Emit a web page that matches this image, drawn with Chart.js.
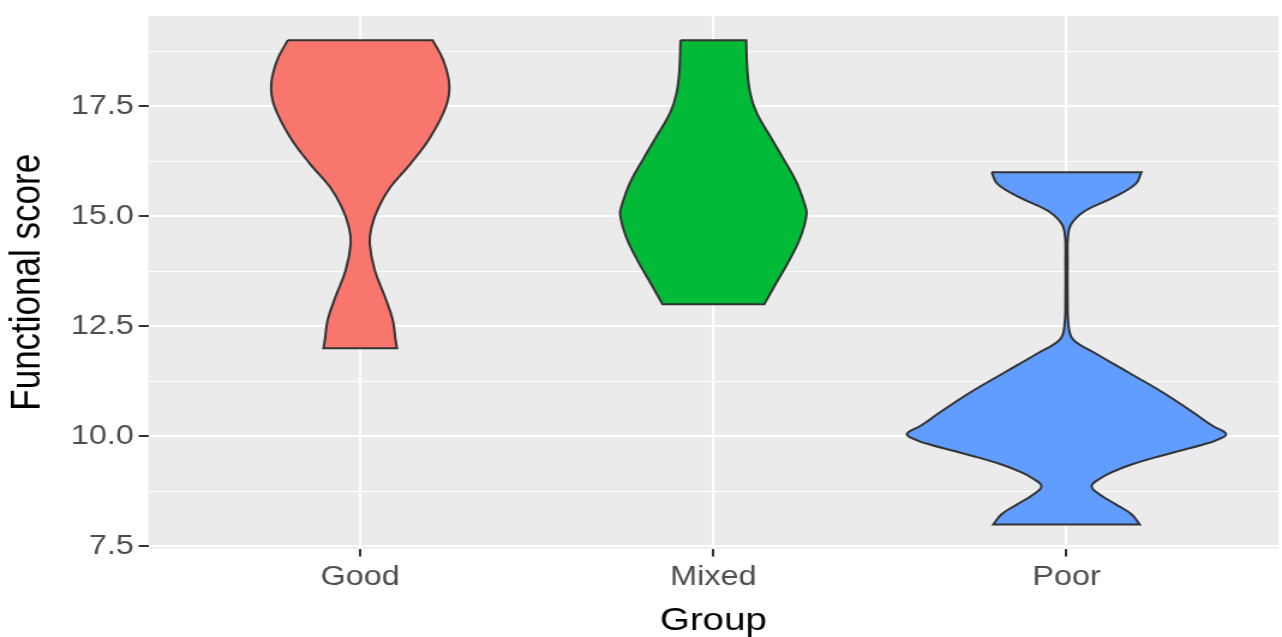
<!DOCTYPE html>
<html>
<head>
<meta charset="utf-8">
<title>Functional score by group</title>
<script src="https://cdn.jsdelivr.net/npm/chart.js@4.4.1/dist/chart.umd.min.js"></script>
<style>
    html, body { margin: 0; padding: 0; background: #ffffff; }
</style>
</head>
<body>
<!-- the reference is stretched sideways, so the canvas is drawn narrower and widened by css -->
<canvas id="violinChart" width="1068" height="637" style="width:1282px;height:637px;display:block;"></canvas>
<script>
const groups = ['Good', 'Mixed', 'Poor'];
const groupColors = ['#F8766D', '#00BA38', '#619CFF'];

// violin outlines: score levels from top to bottom and the half width (in group units) at each level
const goodScores = [19, 18.55, 18.0, 17.5, 16.79, 16.18, 15.66, 15.2, 14.75, 14.38, 13.78, 13.17, 12.65, 12.2, 12];
const goodHalfWidths = [0.205, 0.235, 0.252, 0.243, 0.198, 0.141, 0.085, 0.052, 0.032, 0.027, 0.041, 0.070, 0.092, 0.100, 0.104];

const mixedScores = [19, 18.34, 17.81, 17.36, 16.76, 16.31, 15.78, 15.26, 15.04, 14.53, 14.0, 13.4, 13];
const mixedHalfWidths = [0.093, 0.096, 0.104, 0.122, 0.165, 0.198, 0.235, 0.259, 0.264, 0.247, 0.215, 0.172, 0.144];

const poorScores = [16, 15.73, 15.43, 15.13, 14.83, 14.53, 14.0, 13.25, 12.5, 12.2, 11.9, 11.44, 10.99, 10.54, 10.24, 10.05, 9.9, 9.81, 9.66, 9.51, 9.36, 9.21, 9.06, 8.87, 8.68, 8.45, 8.23, 8];
const poorHalfWidths = [0.212, 0.195, 0.133, 0.054, 0.014, 0.004, 0.003, 0.003, 0.006, 0.019, 0.079, 0.178, 0.274, 0.359, 0.413, 0.452, 0.420, 0.385, 0.315, 0.246, 0.184, 0.136, 0.099, 0.071, 0.094, 0.141, 0.184, 0.207];

const yMajorTicks = [7.5, 10, 12.5, 15, 17.5];
const yTickLabels = ['7.5', '10.0', '12.5', '15.0', '17.5'];
const yMinorTicks = [8.75, 11.25, 13.75, 16.25, 18.75];

const violinScores = [goodScores, mixedScores, poorScores];
const violinHalfWidths = [goodHalfWidths, mixedHalfWidths, poorHalfWidths];

const fontFamily = "'Liberation Sans', Arial, Helvetica, sans-serif";

function violinOutline(center, scores, halfWidths) {
    const n = scores.length;
    const right = scores.map((s, i) => ({ x: center + halfWidths[i], y: s }));
    const left = scores.map((s, i) => ({ x: center - halfWidths[i], y: s })).reverse();
    // corners are repeated so the curve keeps the flat ends straight
    return [left[n - 1], right[0], ...right, right[n - 1], left[0], ...left];
}

const panelBackground = {
    id: 'panelBackground',
    beforeDraw(chart) {
        const { ctx, chartArea } = chart;
        ctx.save();
        ctx.fillStyle = '#EBEBEB';
        ctx.fillRect(chartArea.left, chartArea.top,
            chartArea.right - chartArea.left, chartArea.bottom - chartArea.top);
        ctx.restore();
    }
};

const datasets = groups.map((group, i) => ({
    label: group,
    data: violinOutline(i + 1, violinScores[i], violinHalfWidths[i]),
    backgroundColor: groupColors[i],
    borderColor: '#333333',
    borderWidth: 2,
    fill: 'shape',
    tension: 0.4,
    pointRadius: 0,
    pointHoverRadius: 0
}));

const ctx = document.getElementById('violinChart').getContext('2d');

new Chart(ctx, {
    type: 'line',
    data: { datasets: datasets },
    plugins: [panelBackground],
    options: {
        responsive: false,
        maintainAspectRatio: false,
        devicePixelRatio: 1,
        animation: false,
        events: [],
        layout: {
            padding: { top: 16, right: 3, bottom: 0, left: 0 }
        },
        plugins: {
            legend: { display: false },
            tooltip: { enabled: false }
        },
        scales: {
            x: {
                type: 'linear',
                min: 0.4,
                max: 3.6,
                afterBuildTicks: axis => {
                    axis.ticks = groups.map((g, i) => ({ value: i + 1 }));
                },
                border: { display: false },
                grid: {
                    color: '#FFFFFF',
                    lineWidth: 2,
                    tickColor: '#333333',
                    tickWidth: 2,
                    tickLength: 8
                },
                ticks: {
                    autoSkip: false,
                    maxRotation: 0,
                    padding: 5,
                    color: '#4D4D4D',
                    font: { family: fontFamily, size: 27 },
                    callback: value => groups[value - 1]
                },
                title: {
                    display: true,
                    text: 'Group',
                    color: '#000000',
                    font: { family: fontFamily, size: 32, lineHeight: 1 },
                    padding: { top: 6, bottom: 0 }
                }
            },
            y: {
                type: 'linear',
                min: 7.45,
                max: 19.55,
                afterBuildTicks: axis => {
                    axis.ticks = [...yMajorTicks, ...yMinorTicks]
                        .sort((a, b) => a - b)
                        .map(v => ({ value: v }));
                },
                afterFit: axis => {
                    // labels never reach the panel edges, so no extra room is needed
                    axis.paddingTop = 0;
                    axis.paddingBottom = 0;
                },
                border: { display: false },
                grid: {
                    color: '#FFFFFF',
                    lineWidth: c => yMajorTicks.includes(c.tick.value) ? 2 : 1,
                    tickColor: c => yMajorTicks.includes(c.tick.value) ? '#333333' : 'rgba(0,0,0,0)',
                    tickWidth: 2,
                    tickLength: 8
                },
                ticks: {
                    autoSkip: false,
                    padding: 4,
                    color: '#4D4D4D',
                    font: { family: fontFamily, size: 27 },
                    callback: value => {
                        const i = yMajorTicks.indexOf(value);
                        return i >= 0 ? yTickLabels[i] : '';
                    }
                },
                title: {
                    display: true,
                    text: 'Functional score',
                    color: '#000000',
                    font: { family: fontFamily, size: 35 },
                    padding: { top: 2.5, bottom: 10.5 }
                }
            }
        }
    }
});
</script>
</body>
</html>
